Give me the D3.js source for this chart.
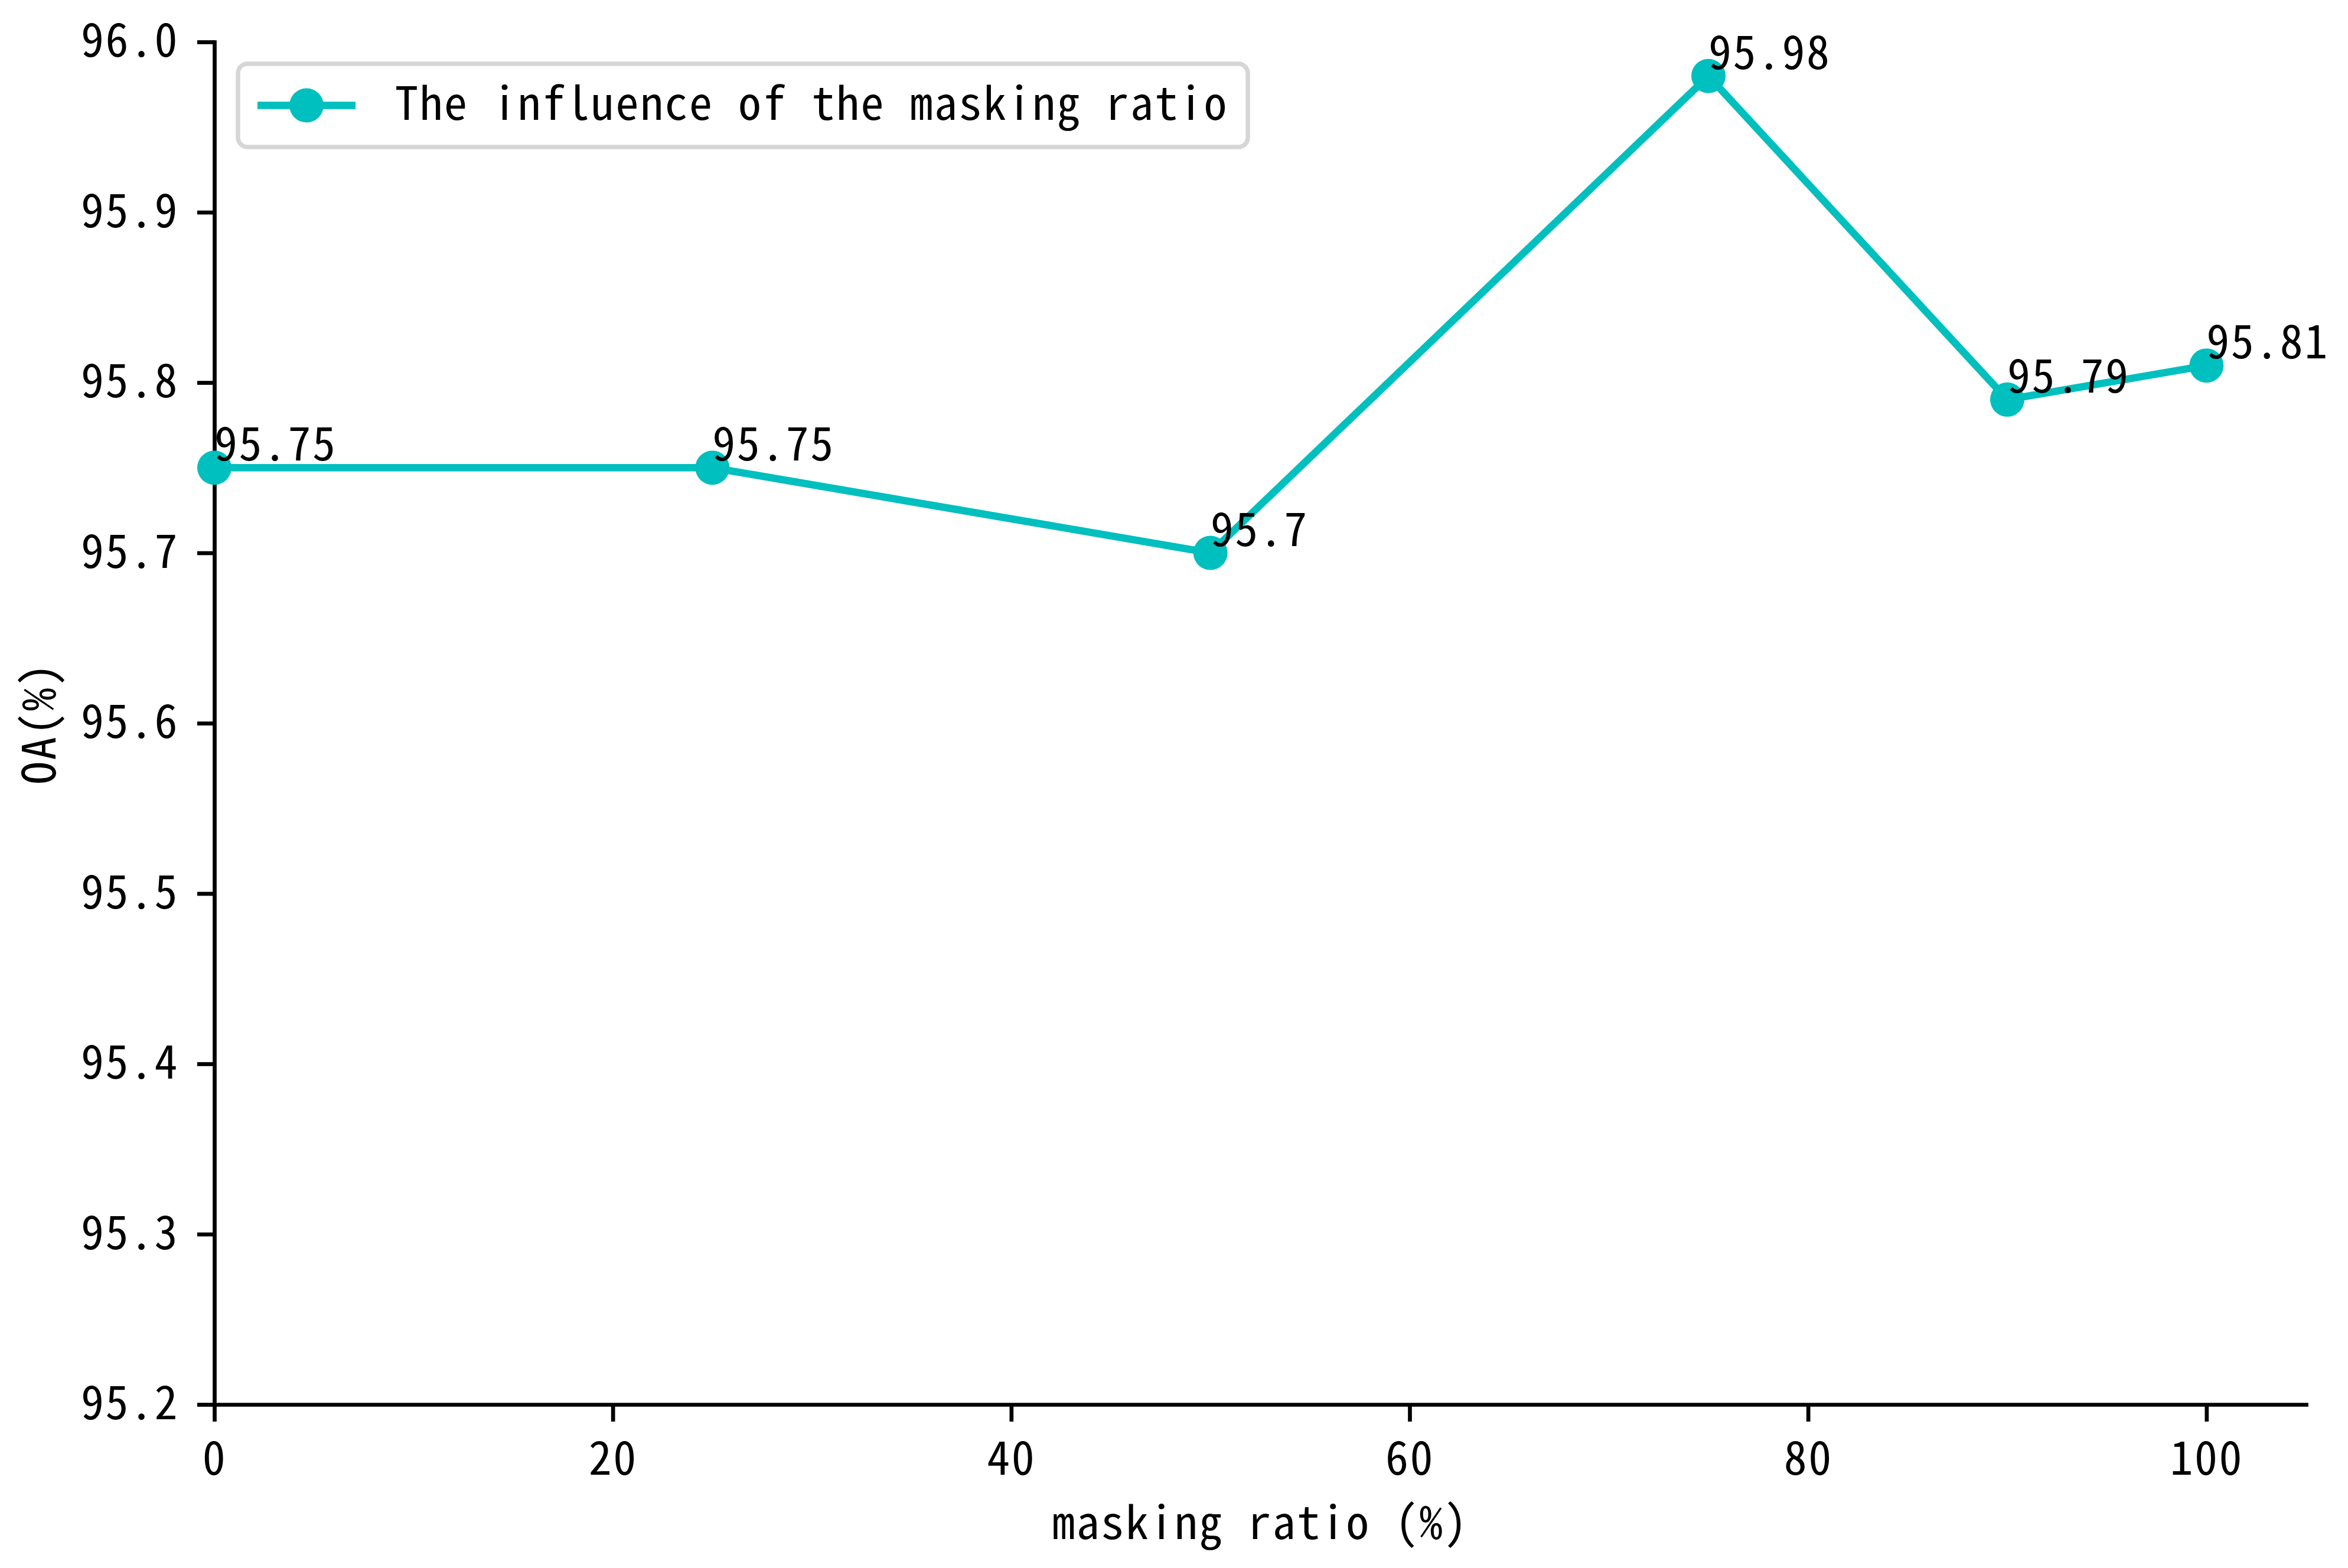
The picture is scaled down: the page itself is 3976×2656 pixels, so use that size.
<!DOCTYPE html>
<html>
<head>
<meta charset="utf-8">
<script src="https://cdn.jsdelivr.net/npm/d3@7"></script>
<style>
  body { margin: 0; background: #ffffff; }
  svg { display: block; }
  text { font-family: "Noto Sans Mono CJK SC", "Noto Sans CJK SC", "Liberation Mono", monospace; fill: #000; }
</style>
</head>
<body>
<div id="chart"></div>
<script>
// data
const maskingRatios = [0, 25, 50, 75, 90, 100];
const oaValues = [95.75, 95.75, 95.70, 95.98, 95.79, 95.81];
const pointLabels = ['95.75', '95.75', '95.7', '95.98', '95.79', '95.81'];
const xTicks = [0, 20, 40, 60, 80, 100];
const yTicks = [95.2, 95.3, 95.4, 95.5, 95.6, 95.7, 95.8, 95.9, 96.0];
const seriesName = 'The influence of the masking ratio';
const xTitle = 'masking ratio (%)';
const yTitle = 'OA(%)';

const width = 3976;
const height = 2656;
const margin = { top: 71, right: 71, bottom: 277, left: 363 };
const lineColor = '#00BFBF';
const fontSize = 78;
const charAdvance = 41.5;   // half-width monospace advance seen in the figure
const spineWidth = 6.7;
const tickLen = 29;

const svg = d3.select('#chart')
  .append('svg')
    .attr('width', width)
    .attr('height', height);

svg.append('rect')
    .attr('width', width)
    .attr('height', height)
    .attr('fill', '#ffffff');

const x = d3.scaleLinear()
    .domain([0, 105])
    .range([margin.left, width - margin.right]);

const y = d3.scaleLinear()
    .domain([95.2, 96.0])
    .range([height - margin.bottom, margin.top]);

// force a fixed advance per character, whatever font got picked
function fitText(sel) {
  sel.each(function() {
    const t = d3.select(this);
    const n = t.text().length;
    t.style('letter-spacing', null);
    const w = this.getComputedTextLength();
    t.style('letter-spacing', (charAdvance - w / n) + 'px');
  });
}

// axes
const xAxis = d3.axisBottom(x)
    .tickValues(xTicks)
    .tickFormat(d3.format('d'))
    .tickSize(tickLen)
    .tickPadding(35)
    .tickSizeOuter(0);

const yAxis = d3.axisLeft(y)
    .tickValues(yTicks)
    .tickFormat(d3.format('.1f'))
    .tickSize(tickLen)
    .tickPadding(31)
    .tickSizeOuter(0);

const gx = svg.append('g')
    .attr('transform', `translate(0, ${height - margin.bottom})`)
    .call(xAxis);

const gy = svg.append('g')
    .attr('transform', `translate(${margin.left}, 0)`)
    .call(yAxis);

[gx, gy].forEach(g => {
  g.select('.domain')
      .attr('stroke', '#000')
      .attr('stroke-width', spineWidth)
      .attr('stroke-linecap', 'square');
  g.selectAll('.tick line')
      .attr('stroke', '#000')
      .attr('stroke-width', spineWidth);
  g.selectAll('.tick text')
      .attr('font-family', null)
      .style('font-size', fontSize + 'px')
      .call(fitText);
});

// the series line and markers
const line = d3.line()
    .x((d, i) => x(maskingRatios[i]))
    .y(d => y(d));

svg.append('path')
    .datum(oaValues)
    .attr('fill', 'none')
    .attr('stroke', lineColor)
    .attr('stroke-width', 12.5)
    .attr('stroke-linejoin', 'round')
    .attr('d', line);

svg.append('g')
  .selectAll('circle')
  .data(oaValues)
  .join('circle')
    .attr('cx', (d, i) => x(maskingRatios[i]))
    .attr('cy', d => y(d))
    .attr('r', 29)
    .attr('fill', lineColor);

// value labels, starting at the point, baseline just above it
svg.append('g')
  .selectAll('text')
  .data(oaValues)
  .join('text')
    .attr('x', (d, i) => x(maskingRatios[i]))
    .attr('y', d => y(d) - 12)
    .style('font-size', fontSize + 'px')
    .text((d, i) => pointLabels[i])
    .call(fitText);

// axis titles
svg.append('text')
    .attr('x', (x.range()[0] + x.range()[1]) / 2)
    .attr('y', 2607)
    .attr('text-anchor', 'middle')
    .style('font-size', fontSize + 'px')
    .text(xTitle)
    .call(fitText);

svg.append('text')
    .attr('transform', `translate(94, ${(y.range()[0] + y.range()[1]) / 2}) rotate(-90)`)
    .attr('text-anchor', 'middle')
    .style('font-size', fontSize + 'px')
    .text(yTitle)
    .call(fitText);

// legend
const legendX = 403;
const legendY = 108;
const legendH = 141;
const legend = svg.append('g');

const legendBox = legend.append('rect')
    .attr('x', legendX)
    .attr('y', legendY)
    .attr('height', legendH)
    .attr('rx', 16)
    .attr('fill', '#ffffff')
    .attr('fill-opacity', 0.8)
    .attr('stroke', '#d6d6d6')
    .attr('stroke-width', 7.5);

const legendMid = legendY + legendH / 2;

legend.append('line')
    .attr('x1', 436)
    .attr('x2', 602)
    .attr('y1', legendMid)
    .attr('y2', legendMid)
    .attr('stroke', lineColor)
    .attr('stroke-width', 12.5);

legend.append('circle')
    .attr('cx', 519)
    .attr('cy', legendMid)
    .attr('r', 29)
    .attr('fill', lineColor);

const legendText = legend.append('text')
    .attr('x', 669)
    .attr('y', legendMid + 24)
    .style('font-size', fontSize + 'px')
    .text(seriesName)
    .call(fitText);

const textEnd = 669 + seriesName.length * charAdvance;
legendBox.attr('width', textEnd + 33 - legendX);
</script>
</body>
</html>
